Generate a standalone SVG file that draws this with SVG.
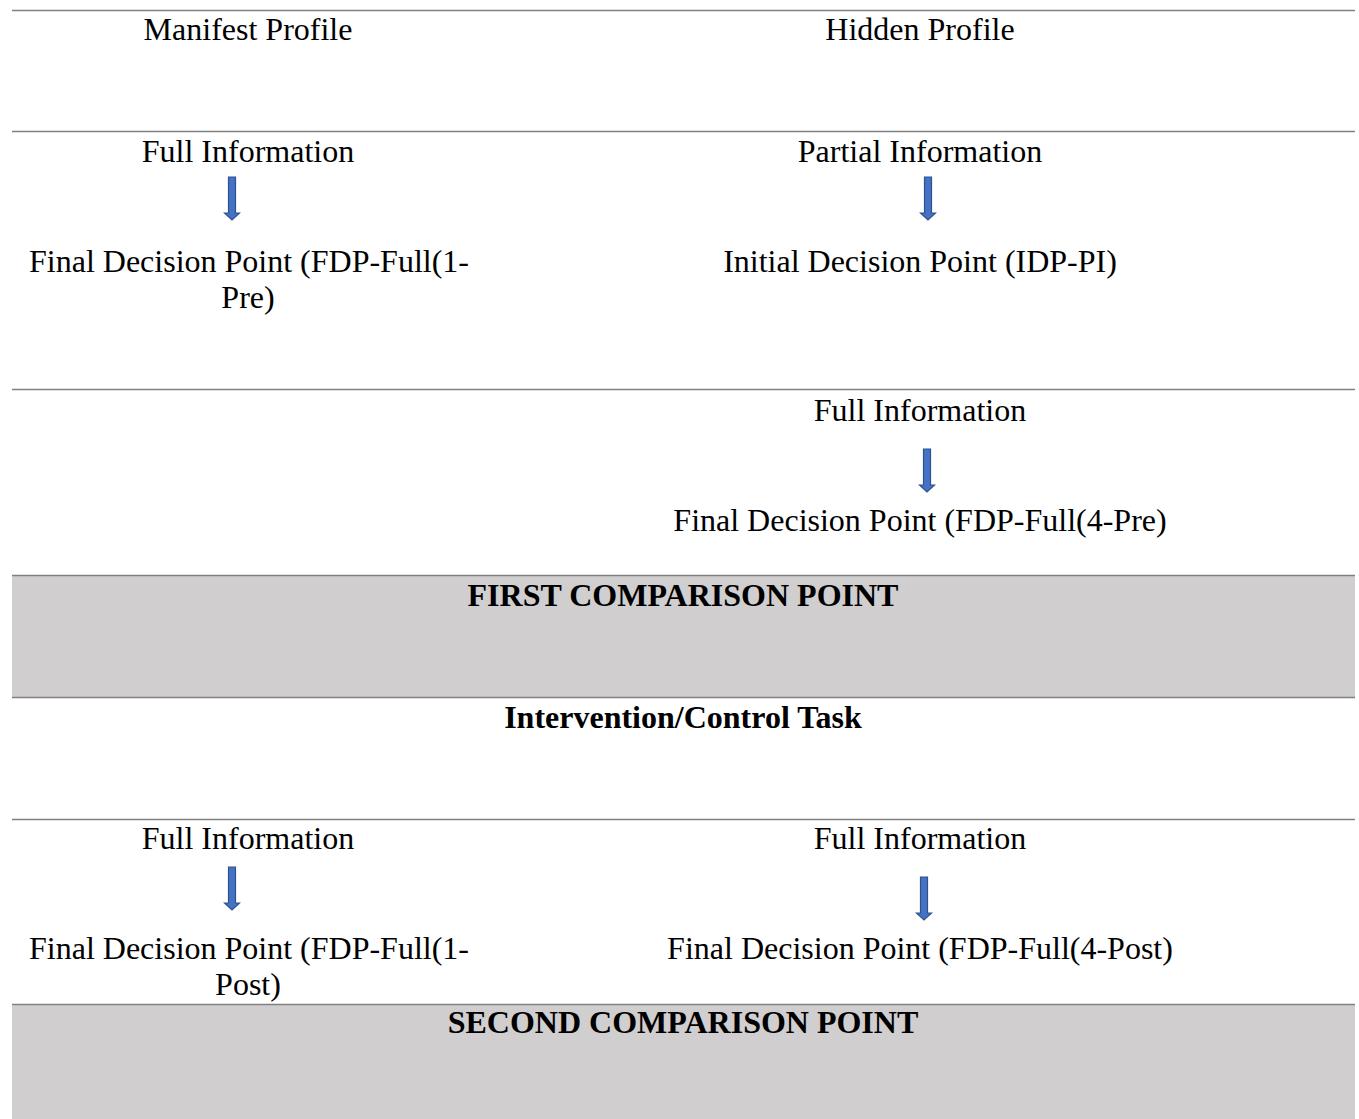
<svg xmlns="http://www.w3.org/2000/svg" width="1359" height="1119" viewBox="0 0 1359 1119">
<style>
text{font-family:"Liberation Serif","Times New Roman",serif;font-size:32px;fill:#000;text-anchor:middle}
.b{font-weight:bold}
.rule{stroke:#808080;stroke-width:1.5;fill:none}
.band{fill:#D0CECE}
.arrow{fill:#4472C4;stroke:#2F528F;stroke-width:1.2}
</style>
<defs>
<path id="arr" d="M-3.5,0 H3.5 V36 H7.5 L0,43 L-7.5,36 H-3.5 Z"/>
</defs>
<rect width="1359" height="1119" fill="#fff"/>
<g id="bands">
<rect class="band" x="12" y="575" width="1343" height="122"/>
<rect class="band" x="12" y="1004" width="1343" height="115"/>
</g>
<g id="rules">
<line class="rule" x1="12" y1="10.5" x2="1355" y2="10.5"/>
<line class="rule" x1="12" y1="131.5" x2="1355" y2="131.5"/>
<line class="rule" x1="12" y1="389.5" x2="1355" y2="389.5"/>
<line class="rule" x1="12" y1="575.5" x2="1355" y2="575.5"/>
<line class="rule" x1="12" y1="697.5" x2="1355" y2="697.5"/>
<line class="rule" x1="12" y1="819.5" x2="1355" y2="819.5"/>
<line class="rule" x1="12" y1="1004.5" x2="1355" y2="1004.5"/>
</g>
<g id="connectors">
<use href="#arr" class="arrow" x="232" y="177"/>
<use href="#arr" class="arrow" x="928" y="177"/>
<use href="#arr" class="arrow" x="927" y="449"/>
<use href="#arr" class="arrow" x="232" y="867"/>
<use href="#arr" class="arrow" x="924" y="877"/>
</g>
<g id="manifest-profile"><text x="248" y="40">Manifest Profile</text></g>
<g id="hidden-profile"><text x="920" y="40">Hidden Profile</text></g>
<g id="full-info-1"><text x="248" y="162">Full Information</text></g>
<g id="partial-info"><text x="920" y="162">Partial Information</text></g>
<g id="fdp-full-1-pre"><text x="249" y="272">Final Decision Point (FDP-Full(1-</text><text x="248" y="308">Pre)</text></g>
<g id="idp-pi"><text x="920" y="272">Initial Decision Point (IDP-PI)</text></g>
<g id="full-info-2"><text x="920" y="421">Full Information</text></g>
<g id="fdp-full-4-pre"><text x="920" y="531">Final Decision Point (FDP-Full(4-Pre)</text></g>
<g id="first-comparison"><text class="b" x="683" y="606">FIRST COMPARISON POINT</text></g>
<g id="intervention"><text class="b" x="683" y="728">Intervention/Control Task</text></g>
<g id="full-info-3"><text x="248" y="849">Full Information</text></g>
<g id="full-info-4"><text x="920" y="849">Full Information</text></g>
<g id="fdp-full-1-post"><text x="249" y="959">Final Decision Point (FDP-Full(1-</text><text x="248" y="995">Post)</text></g>
<g id="fdp-full-4-post"><text x="920" y="959">Final Decision Point (FDP-Full(4-Post)</text></g>
<g id="second-comparison"><text class="b" x="683" y="1033">SECOND COMPARISON POINT</text></g>
</svg>
